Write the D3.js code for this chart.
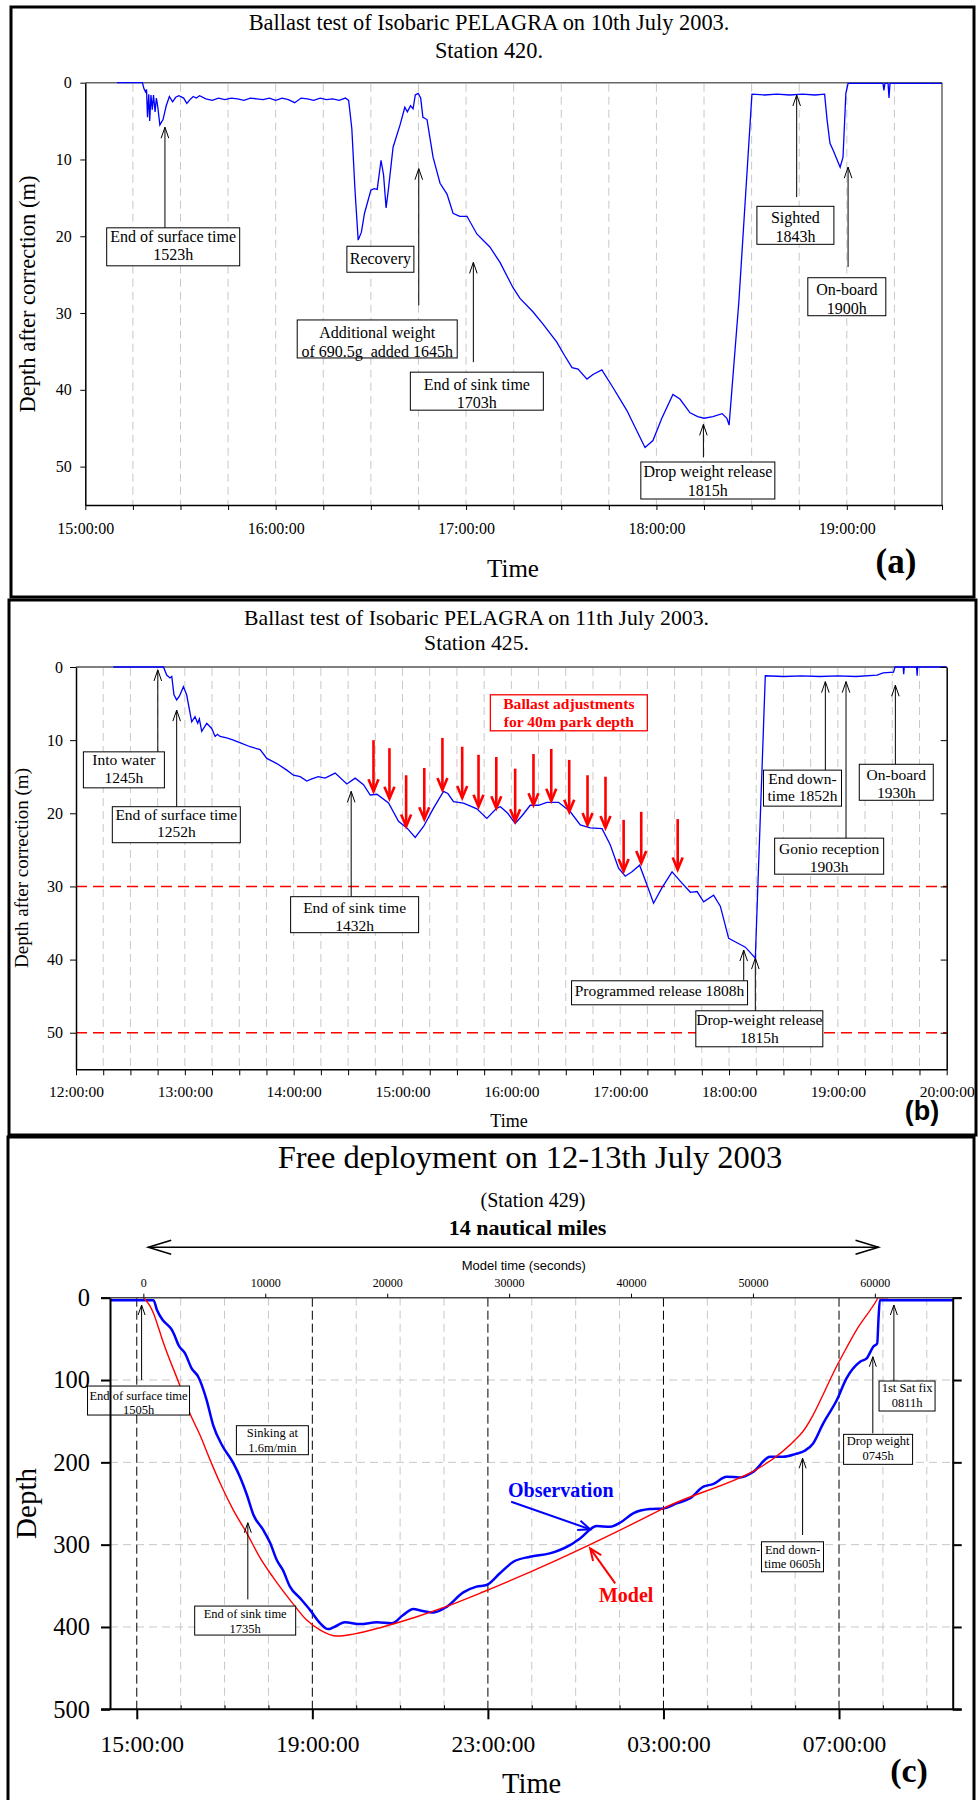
<!DOCTYPE html>
<html>
<head>
<meta charset="utf-8">
<script src="https://cdn.jsdelivr.net/npm/d3@7/dist/d3.min.js"></script>
<style>
body{margin:0;background:#fff}
svg{display:block}
</style>
</head>
<body>
<svg id="fig" width="978" height="1800"></svg>
<script>
// ---------------- Panel (a): Station 420, 10 July 2003 (minutes after 15:00, depth in m)
const aTime = [10,18,18.5,19,19.3,19.6,20,20.3,20.7,21.1,21.5,22,22.4,22.8,23.5,24.5,25.5,26.5,27.5,28.5,29.5,31,32,33,34,35,36,38,40,42,44,46,48,50,52,54,56,58,60,62,64,66,68,70,72,74,76,78,80,82,83,84,85,86,87,88,89,90,91,92,93.2,94,94.8,95.5,97,99.2,100.7,101.5,102.5,103.3,104,104.9,105.7,106.4,107.7,109.6,111.8,114,115.9,118,120.3,123.4,127.5,130.7,134.8,137,141,144.2,148.6,151,153.4,155.3,158.1,160,162.8,166.3,170.7,174,176.4,178.9,181.7,185.2,187.4,190.6,193,195,197.8,200.7,202.2,202.9,206,210.1,214,218,222,226,230,233,233.8,234.7,235.7,237.9,238.8,239.7,240.4,251.4,251.7,252,253,253.3,253.6,270];
const aDepth = [0,0,0.8,1.2,0.9,4.5,1.5,5,1.6,3.5,1.6,3.8,2,3,5.5,4.8,3,1.8,2.5,1.9,1.7,2,2.7,2.2,1.8,2,1.7,2.1,2.3,2,2.2,2,2.1,2.3,2,2.1,2.2,2,2.3,2,2.2,2.6,2,2.1,2.3,2,2.2,2.1,2.3,2,2.3,6,14,20.5,19.5,17,15.5,14,13.8,13.9,10.1,12,16.3,14,8.4,5.5,3.2,3.8,3,3.4,1.6,1.4,2,4.5,4.8,9.7,13.1,14.5,17,17.4,17.4,19.7,21.4,23.4,26.7,28.1,29.8,31.4,33.8,35.5,37.1,37.3,38.6,38,37.4,39.7,42.7,45.5,47.5,46.6,43.7,40.6,41.2,43,43.5,43.7,43.5,43.1,43.7,44.6,28.4,1.5,1.6,1.5,1.6,1.5,1.6,1.5,4.9,7.9,8.8,11,9.7,1.4,0.1,0.1,1,0.1,0.1,2,0.1,0.1];
const aYTicks = [0,10,20,30,40,50];

// ---------------- Panel (b): Station 425, 11 July 2003 (minutes after 12:00, depth in m)
const bTime = [20.6,48.2,50,51.8,52.8,54,55.5,57,59.2,61,63.8,65.6,67.1,68,69.3,72.1,74.8,76.7,78,79.4,83.1,86.8,91,96,101.5,105.2,110.7,116.2,119.9,123.6,127.2,130,133.6,137.3,142.9,149.3,153.9,158.5,162.2,165.9,172.3,177.8,182.4,187,191.6,197.1,202.6,205,208.1,213.6,221,226.5,232,234,238,242.1,246,250.4,255,259.6,266,272.5,278,283.5,290,294.5,299.1,302.8,306.5,310.7,314.8,318.4,323,328.6,333.2,338.7,342.4,346,351.5,355.2,359.8,364.4,369,374.5,380,390,400,410,420,430,441.6,445,450.7,451.5,456,456.3,456.6,463.4,463.7,464,480];
const bDepth = [0,0,1.1,1.5,1.3,3.8,4.5,4,2.7,3.8,7.5,6.8,7.7,7.1,8.8,7.7,8.4,9.5,9.2,9.5,9.7,10,10.4,10.9,11.3,12.5,13.2,14.1,14.8,15,15.6,15.3,15,15.2,14.5,16,15.2,16.1,17.5,17.4,18.6,21.1,22,23.3,21.8,19.3,17,17.3,18.4,18.6,19.4,20.7,19.3,19.1,20,21.4,20.3,18.9,18.9,18.5,18.5,19.8,21.6,22,22.1,24.3,27.5,28.6,28,27.1,29.8,32.3,30.2,28,29.3,30.8,30.7,32.1,31.2,32.7,37.1,37.7,38.3,39.8,1.2,1.3,1.2,1.3,1.2,1.3,1.1,0.8,0.7,0,0,1,0,0,1.2,0,0];
const bAdjTime = [164,172.8,182,192,202,212.9,221.9,231.7,242.1,252.2,262,271.9,282,291.9,301.9,311.6,331.7];
const bAdjFrom = [10,11.1,14.8,13.8,9.7,10.9,12,12.3,13.9,11.9,11.2,12.7,14.8,15,20.9,19.8,20.8];
const bAdjTo   = [17,18,21.8,20.8,16.8,17.9,19.1,19.3,21.1,18.9,18.3,19.8,21.6,22,27.9,26.8,27.7];
const bLimits = [30, 50];
const bYTicks = [0,10,20,30,40,50];

// ---------------- Panel (c): Station 429, 12-13 July 2003 (hours after 15:00, depth in m)
const cObsHour  = [-0.61,0.38,0.46,0.59,0.70,0.80,0.87,0.95,1.10,1.25,1.40,1.59,1.74,1.94,2.20,2.35,2.51,2.66,2.88,3.04,3.19,3.33,3.49,3.72,3.95,4.18,4.36,4.48,4.74,5.09,5.47,5.81,6.07,6.30,6.49,6.76,7.06,7.44,7.74,7.97,8.28,8.58,8.96,9.41,9.87,10.10,10.48,10.78,11.01,11.31,11.69,12.00,12.30,12.60,12.91,13.13,13.44,13.74,14.05,14.43,14.73,15.00,15.22,15.41,15.64,15.95,16.17,16.48,16.63,16.78,16.87,16.90,16.93,18.59];
const cObsDepth = [3,3,15,27,33,39,47,57.5,67.6,85.8,96,124,154.7,179,201,217.5,239.7,264,282,298,318.7,331,351,365,379.5,395.6,402.6,400.5,394.4,396.5,394.4,395.6,385.5,378.2,380.3,382.3,375.5,358,351,349,334.5,320.8,314.7,310.6,300.5,292.4,277.4,278.3,273.4,262,256.8,256,249.9,243.8,229.6,226.4,217.5,218.3,211.4,193.2,193.2,190,185.9,177,152.6,124.3,98,77.8,73.7,59.5,55.4,25,3,3];
const cModHour  = [0.15,0.19,0.38,0.51,0.57,0.99,1.21,1.44,1.67,1.90,2.20,2.51,2.81,3.11,3.49,3.87,4.18,4.56,4.93,5.62,6.38,6.98,7.90,9.57,12.00,15.11,16.02,16.40,16.86,16.89,17.12];
const cModDepth = [0,2,19,39,49,108,140.5,166.8,197,225.5,258,286.3,316,340,367,391.6,403.8,411,408.7,399.7,387.6,376.6,357.2,318.7,256,166.8,75.7,39,2.8,0,0];
const cModelStartHour = 0.15;
const cModelTicks = [0,10000,20000,30000,40000,50000,60000];
const cYTicks = [0,100,200,300,400,500];
const cMajorHours = [0,4,8,12,16];

// ---------------- helpers
const SERIF = "'Liberation Serif','Times New Roman',Times,serif";
const SANS = "'Liberation Sans',Arial,Helvetica,sans-serif";
const svg = d3.select("#fig");
svg.append("rect").attr("width",978).attr("height",1800).attr("fill","#fff");
const clock = h => String(((Math.round(h)%24)+24)%24).padStart(2,"0")+":00:00";

function head(g,x1,y1,x2,y2,len,hw,color,sw){
  const dx=x2-x1, dy=y2-y1, L=Math.hypot(dx,dy), ux=dx/L, uy=dy/L, nx=-uy, ny=ux;
  const bx=x2-ux*len, by=y2-uy*len;
  g.append("path").attr("d",`M${bx+nx*hw},${by+ny*hw}L${x2},${y2}L${bx-nx*hw},${by-ny*hw}`)
   .attr("fill","none").attr("stroke",color).attr("stroke-width",sw);
}
function arrow(g,x1,y1,x2,y2,len,hw,color,sw){
  g.append("line").attr("x1",x1).attr("y1",y1).attr("x2",x2).attr("y2",y2).attr("stroke",color).attr("stroke-width",sw);
  head(g,x1,y1,x2,y2,len,hw,color,sw);
}
function T(g,x,y,s,size,o={}){
  const t=g.append("text").attr("x",x).attr("y",y).attr("font-family",o.family||SERIF).attr("font-size",size)
   .attr("fill",o.fill||"#000").attr("text-anchor",o.anchor||"middle").style("white-space","pre").text(s);
  if(o.bold) t.attr("font-weight","bold");
  if(o.rot) t.attr("transform",`rotate(-90,${x},${y})`);
  return t;
}
function note(g,xs,ys,n,st){
  if(n.arrow){
    const x=xs(n.arrow[0]);
    arrow(g,x,ys(n.arrow[2]),x,ys(n.arrow[1]),st.hl,st.hw,"#000",1);
  }
  const cx=xs(n.cx), top=ys(n.top);
  g.append("rect").attr("x",cx-n.w/2).attr("y",top).attr("width",n.w).attr("height",n.h)
   .attr("fill","#fff").attr("stroke",st.color||"#000").attr("stroke-width",st.bw||1);
  n.lines.forEach((s,i)=>T(g,cx,top+n.off+i*st.lh,s,st.fs,{fill:st.color||"#000",bold:st.bold}));
}
function styleAxis(g,fs,fam){
  g.attr("font-family",fam||SERIF).attr("font-size",fs);
  g.selectAll("text").attr("fill","#000");
  g.selectAll(".tick line").attr("stroke","#000");
  g.select(".domain").attr("stroke","#000").attr("stroke-width",1.5);
}
function vgrid(g,vals,xs,y0,y1,color,dash){
  g.append("g").selectAll("line").data(vals).join("line")
   .attr("x1",d=>xs(d)).attr("x2",d=>xs(d)).attr("y1",y0).attr("y2",y1)
   .attr("stroke",color).attr("stroke-width",1).attr("stroke-dasharray",dash);
}

// =============== PANEL (a)
{
  const g = svg.append("g");
  const xs = d3.scaleLinear().domain([0,270]).range([85.3,942]);
  const ys = d3.scaleLinear().domain([0,55]).range([82.7,505]);
  vgrid(g,d3.range(15,270,15),xs,ys(0)+1,ys(55),"#c8c8c8","8,5");
  g.append("line").attr("x1",xs(0)).attr("x2",xs(270)).attr("y1",ys(0)).attr("y2",ys(0)).attr("stroke","#666").attr("stroke-width",1.5);
  g.append("line").attr("x1",xs(270)).attr("x2",xs(270)).attr("y1",ys(0)).attr("y2",ys(55)).attr("stroke","#666").attr("stroke-width",1.5);
  g.append("path").datum(d3.zip(aTime,aDepth))
   .attr("d",d3.line().x(d=>xs(d[0])).y(d=>ys(d[1])))
   .attr("fill","none").attr("stroke","#0000ff").attr("stroke-width",1.3);
  const st={fs:16,lh:18.6,hl:11,hw:3.8};
  [
    {lines:["End of surface time","1523h"],cx:27.7,top:18.9,w:133,h:38,off:14,arrow:[25.1,5.8,18.9]},
    {lines:["Recovery"],cx:93,top:21.3,w:67,h:26,off:17.5},
    {lines:["Additional weight","of 690.5g  added 1645h"],cx:92,top:30.9,w:160,h:38,off:18,arrow:[105.1,11.2,29]},
    {lines:["End of sink time","1703h"],cx:123.4,top:37.7,w:133,h:38,off:17.5,arrow:[122.3,23.4,36.4]},
    {lines:["Drop weight release","1815h"],cx:196.2,top:49.4,w:134,h:37,off:15,arrow:[194.8,44.5,48.8]},
    {lines:["Sighted","1843h"],cx:223.8,top:16.1,w:77,h:38,off:17,arrow:[224.2,1.6,14.9]},
    {lines:["On-board","1900h"],cx:240,top:25.4,w:78,h:38,off:17.3,arrow:[240.4,11,24]}
  ].forEach(n=>note(g,xs,ys,n,st));
  const ax=g.append("g").attr("transform",`translate(0,${ys(55)})`)
   .call(d3.axisBottom(xs).tickValues(d3.range(0,271,15)).tickFormat(d=>d%60===0?clock(15+d/60):"").tickSize(5).tickSizeOuter(0).tickPadding(12.6));
  styleAxis(ax,16);
  const ay=g.append("g").attr("transform",`translate(${xs(0)},0)`)
   .call(d3.axisLeft(ys).tickValues(aYTicks).tickSize(5).tickSizeOuter(0).tickPadding(8.6));
  styleAxis(ay,16);
  T(g,489,30,"Ballast test of Isobaric PELAGRA on 10th July 2003.",22.4);
  T(g,489,58,"Station 420.",22.4);
  T(g,35,294,"Depth after correction (m)",22.5,{rot:true});
  T(g,513,577,"Time",25);
  T(g,896,573,"(a)",35,{bold:true});
  g.append("rect").attr("x",11).attr("y",7).attr("width",963).attr("height",590).attr("fill","none").attr("stroke","#000").attr("stroke-width",3);
}

// =============== PANEL (b)
{
  const g = svg.append("g");
  const xs = d3.scaleLinear().domain([0,480]).range([76,946.7]);
  const ys = d3.scaleLinear().domain([0,55]).range([667,1069.3]);
  vgrid(g,d3.range(15,480,15),xs,ys(0)+1,ys(55),"#c8c8c8","8,5");
  g.append("g").selectAll("line").data(bLimits).join("line")
   .attr("x1",xs(0)).attr("x2",xs(480)).attr("y1",d=>ys(d)).attr("y2",d=>ys(d))
   .attr("stroke","#ff0000").attr("stroke-width",1.6).attr("stroke-dasharray","11,6");
  g.append("line").attr("x1",xs(0)).attr("x2",xs(480)).attr("y1",ys(0)).attr("y2",ys(0)).attr("stroke","#000").attr("stroke-width",1.2);
  g.append("path").datum(d3.zip(bTime,bDepth))
   .attr("d",d3.line().x(d=>xs(d[0])).y(d=>ys(d[1])))
   .attr("fill","none").attr("stroke","#0000ff").attr("stroke-width",1.3);
  bAdjTime.forEach((t,i)=>arrow(g,xs(t),ys(bAdjFrom[i]),xs(t),ys(bAdjTo[i]),12,5,"#ff0000",2.6));
  note(g,xs,ys,{lines:["Ballast adjustments","for 40m park depth"],cx:271.7,top:3.8,w:157,h:36,off:14},
       {fs:15.6,lh:17.8,color:"#ff0000",bold:true,bw:1.3});
  const st={fs:15.5,lh:17.6,hl:11,hw:3.8};
  [
    {lines:["Into water","1245h"],cx:26.4,top:11.6,w:81,h:36,off:13.5,arrow:[45.1,0.4,11.6]},
    {lines:["End of surface time","1252h"],cx:55.3,top:19.1,w:128,h:36,off:13,arrow:[55.5,5.9,19.1]},
    {lines:["End of sink time","1432h"],cx:153.6,top:31.4,w:128,h:36,off:16.5,arrow:[151.7,17,31.4]},
    {lines:["End down-","time 1852h"],cx:400.5,top:14.1,w:78,h:36,off:13.5,arrow:[413.1,2,14.1]},
    {lines:["Gonio reception","1903h"],cx:415.2,top:23.4,w:109,h:36,off:16,arrow:[424.5,2,23.4]},
    {lines:["On-board","1930h"],cx:452.2,top:13.3,w:74,h:36,off:15.7,arrow:[451.7,2.5,13.3]},
    {lines:["Programmed release 1808h"],cx:321.7,top:42.9,w:176,h:24,off:15.5,arrow:[368.1,38.7,42.9]},
    {lines:["Drop-weight release","1815h"],cx:376.7,top:47,w:127,h:36,off:14.7,arrow:[374.5,39.8,47]}
  ].forEach(n=>note(g,xs,ys,n,st));
  const ax=g.append("g").attr("transform",`translate(0,${ys(55)})`)
   .call(d3.axisBottom(xs).tickValues(d3.range(0,481,15)).tickFormat(d=>d%60===0?clock(12+d/60):"").tickSize(6).tickSizeOuter(0).tickPadding(10.5));
  styleAxis(ax,15.5);
  const ay=g.append("g").attr("transform",`translate(${xs(0)},0)`)
   .call(d3.axisLeft(ys).tickValues(bYTicks).tickSize(6).tickSizeOuter(0).tickPadding(7));
  styleAxis(ay,16);
  const ar=g.append("g").attr("transform",`translate(${xs(480)},0)`)
   .call(d3.axisLeft(ys).tickValues(bYTicks).tickSize(6).tickSizeOuter(0).tickFormat(""));
  styleAxis(ar,16);
  T(g,476.5,625,"Ballast test of Isobaric PELAGRA on 11th July 2003.",21.7);
  T(g,476.5,650,"Station 425.",21.7);
  T(g,28,868,"Depth after correction (m)",19,{rot:true});
  T(g,509,1127,"Time",18);
  T(g,922,1120,"(b)",27,{bold:true,family:SANS});
  g.append("rect").attr("x",9).attr("y",600).attr("width",967).attr("height",535).attr("fill","none").attr("stroke","#000").attr("stroke-width",3);
}

// =============== PANEL (c)
{
  const g = svg.append("g");
  const xs = d3.scaleLinear().domain([-0.61,18.59]).range([110,952.7]);
  const ys = d3.scaleLinear().domain([0,500]).range([1297.7,1709.3]);
  const xm = d3.scaleLinear().domain([0,60000]).range([xs(cModelStartHour),xs(cModelStartHour+60000/3600)]);
  const hours = d3.range(0,19).filter(h=>!cMajorHours.includes(h));
  vgrid(g,hours,xs,ys(0),ys(500),"#c8c8c8","8,5");
  g.append("g").selectAll("line").data([100,200,300,400]).join("line")
   .attr("x1",xs(-0.61)).attr("x2",xs(18.59)).attr("y1",d=>ys(d)).attr("y2",d=>ys(d))
   .attr("stroke","#c8c8c8").attr("stroke-width",1).attr("stroke-dasharray","8,5");
  vgrid(g,cMajorHours,xs,ys(0),ys(500),"#000","9,4");
  g.append("path").datum(d3.zip(cObsHour,cObsDepth))
   .attr("d",d3.line().curve(d3.curveMonotoneX).x(d=>xs(d[0])).y(d=>ys(d[1])))
   .attr("fill","none").attr("stroke","#0000ff").attr("stroke-width",2.5);
  g.append("path").datum(d3.zip(cModHour,cModDepth))
   .attr("d",d3.line().curve(d3.curveMonotoneX).x(d=>xs(d[0])).y(d=>ys(d[1])))
   .attr("fill","none").attr("stroke","#ff0000").attr("stroke-width",1.4);
  // frame
  g.append("line").attr("x1",101).attr("x2",961.7).attr("y1",ys(0)).attr("y2",ys(0)).attr("stroke","#444").attr("stroke-width",1.5);
  g.append("line").attr("x1",101).attr("x2",961.7).attr("y1",ys(500)).attr("y2",ys(500)).attr("stroke","#000").attr("stroke-width",2);
  const st={fs:12.5,lh:14.5,hl:10,hw:3.5};
  [
    {lines:["End of surface time","1505h"],cx:0.04,top:107.3,w:102,h:29,off:13.5,arrow:[0.11,8.9,100]},
    {lines:["Sinking at","1.6m/min"],cx:3.09,top:155.5,w:72,h:29,off:11.5},
    {lines:["End of sink time","1735h"],cx:2.47,top:374.6,w:101,h:29,off:12,arrow:[2.53,273.4,366.5]},
    {lines:["End down-","time 0605h"],cx:14.94,top:296.5,w:62,h:30,off:11.8},
    {lines:["Drop weight","0745h"],cx:16.89,top:166,w:69,h:30,off:11},
    {lines:["1st Sat fix","0811h"],cx:17.55,top:101.2,w:56,h:30,off:11,arrow:[17.25,8.9,101.2]}
  ].forEach(n=>note(g,xs,ys,n,st));
  arrow(g,xs(15.17),ys(288.3),xs(15.17),ys(195.1),10,3.5,"#000",1);
  arrow(g,xs(16.77),ys(164.8),xs(16.77),ys(71.7),10,3.5,"#000",1);
  // Observation / Model labels
  T(g,xs(9.66),ys(241.8),"Observation",20,{bold:true,fill:"#0000ff"});
  arrow(g,xs(8.53),ys(247.9),xs(10.33),ys(281.4),12,5,"#0000ff",2);
  T(g,xs(11.15),ys(369.4),"Model",20,{bold:true,fill:"#ff0000"});
  arrow(g,xs(10.9),ys(347),xs(10.33),ys(304.5),12,5,"#ff0000",2);
  // axes
  const axMaj=g.append("g").attr("transform",`translate(0,${ys(500)})`)
   .call(d3.axisBottom(xs).tickValues(cMajorHours).tickFormat(d=>clock(15+d)).tickSize(10).tickSizeOuter(0).tickPadding(16));
  styleAxis(axMaj,23.5); axMaj.select(".domain").remove(); axMaj.selectAll("text").attr("dx",5);
  axMaj.selectAll(".tick line").attr("stroke-width",2);
  const axMin=g.append("g").attr("transform",`translate(0,${ys(500)})`)
   .call(d3.axisBottom(xs).tickValues(hours).tickFormat("").tickSize(-4).tickSizeOuter(0));
  styleAxis(axMin,10); axMin.select(".domain").remove();
  const ay=g.append("g").attr("transform",`translate(${xs(-0.61)},0)`)
   .call(d3.axisLeft(ys).tickValues(cYTicks).tickSize(9).tickSizeOuter(0).tickPadding(11));
  styleAxis(ay,24.5); ay.select(".domain").attr("stroke-width",2); ay.selectAll(".tick line").attr("stroke-width",2);
  const ar=g.append("g").attr("transform",`translate(${xs(18.59)},0)`)
   .call(d3.axisRight(ys).tickValues(cYTicks).tickSize(9).tickSizeOuter(0).tickFormat(""));
  styleAxis(ar,10); ar.select(".domain").attr("stroke-width",2); ar.selectAll(".tick line").attr("stroke-width",2);
  const at=g.append("g").attr("transform",`translate(0,${ys(0)})`)
   .call(d3.axisTop(xm).tickValues(cModelTicks).tickFormat(d3.format("d")).tickSize(4).tickSizeOuter(0).tickPadding(7));
  styleAxis(at,12); at.select(".domain").remove();
  // titles
  T(g,530,1168,"Free deployment on 12-13th July 2003",32.5);
  T(g,533,1206.7,"(Station 429)",20);
  T(g,527.5,1235,"14 nautical miles",22,{bold:true});
  const ya=1247.3;
  g.append("line").attr("x1",xs(0.26)).attr("x2",xs(16.9)).attr("y1",ya).attr("y2",ya).attr("stroke","#000").attr("stroke-width",1.5);
  head(g,xs(16.9),ya,xs(0.26),ya,23,7,"#000",1.5);
  head(g,xs(0.26),ya,xs(16.9),ya,23,7,"#000",1.5);
  T(g,523.8,1270,"Model time (seconds)",13,{family:SANS});
  T(g,36,1503.5,"Depth",29,{rot:true});
  T(g,531.7,1793,"Time",28.5);
  T(g,909,1782,"(c)",34,{bold:true});
  g.append("rect").attr("x",8).attr("y",1137).attr("width",966).attr("height",680).attr("fill","none").attr("stroke","#000").attr("stroke-width",3);
}
</script>
</body>
</html>
